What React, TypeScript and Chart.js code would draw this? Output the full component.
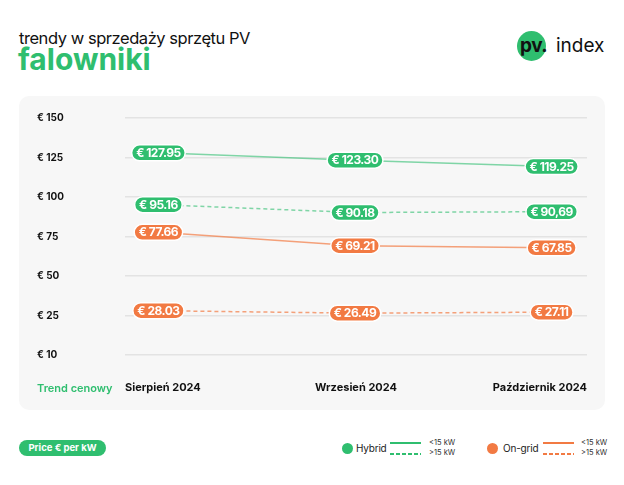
import React, { useEffect, useRef } from "react";
import { Chart, registerables } from "chart.js";

Chart.register(...registerables);

const months = ["Sierpień 2024", "Wrzesień 2024", "Październik 2024"];
const yTickLabels = ["€ 10", "€ 25", "€ 50", "€ 75", "€ 100", "€ 125", "€ 150"];

const hybridUnder15 = [127.95, 123.3, 119.25];
const hybridOver15 = [95.16, 90.18, 90.69];
const onGridUnder15 = [77.66, 69.21, 67.85];
const onGridOver15 = [28.03, 26.49, 27.11];

const hybridUnder15Labels = ["€ 127.95", "€ 123.30", "€ 119.25"];
const hybridOver15Labels = ["€ 95.16", "€ 90.18", "€ 90,69"];
const onGridUnder15Labels = ["€ 77.66", "€ 69.21", "€ 67.85"];
const onGridOver15Labels = ["€ 28.03", "€ 26.49", "€ 27.11"];

const GREEN = "#2fbe6f";
const ORANGE = "#f27a43";
const GREEN_LINE = "rgba(47,190,111,0.6)";
const ORANGE_LINE = "rgba(242,122,67,0.7)";
const FONT = "Inter, 'Noto Sans', sans-serif";

const pillPlugin = {
  id: "pills",
  afterDatasetsDraw(chart: any) {
    const ctx = chart.ctx;
    chart.data.datasets.forEach((ds: any, di: number) => {
      const meta = chart.getDatasetMeta(di);
      meta.data.forEach((pt: any, i: number) => {
        const text = ds.pillLabels[i];
        ctx.save();
        ctx.font = `bold 12px ${FONT}`;
        (ctx as any).letterSpacing = "-0.5px";
        const w = ctx.measureText(text).width + 9;
        const h = 16;
        ctx.beginPath();
        ctx.roundRect(pt.x - w / 2, pt.y - h / 2, w, h, h / 2);
        ctx.fillStyle = ds.pillColor;
        ctx.fill();
        ctx.lineWidth = 1.5;
        ctx.strokeStyle = "#ffffff";
        ctx.stroke();
        ctx.fillStyle = "#ffffff";
        ctx.textAlign = "center";
        ctx.textBaseline = "middle";
        ctx.fillText(text, pt.x, pt.y + 0.5);
        ctx.restore();
      });
    });
  },
};

function toPoints(values: number[]) {
  return values.map((v, i) => ({ x: i, y: v }));
}

export default function App() {
  const canvasRef = useRef<HTMLCanvasElement | null>(null);

  useEffect(() => {
    if (!canvasRef.current) return;
    const mk = (values: number[], labels: string[], line: string, pill: string, dashed: boolean) => ({
      data: toPoints(values),
      xAxisID: "x",
      yAxisID: "y",
      borderColor: line,
      borderWidth: 1.5,
      borderDash: dashed ? [4, 3] : [],
      pointRadius: 0,
      tension: 0,
      fill: false,
      pillLabels: labels,
      pillColor: pill,
    });
    const chart = new Chart(canvasRef.current, {
      type: "line",
      data: {
        labels: months,
        datasets: [
          mk(hybridUnder15, hybridUnder15Labels, GREEN_LINE, GREEN, false),
          mk(hybridOver15, hybridOver15Labels, GREEN_LINE, GREEN, true),
          mk(onGridUnder15, onGridUnder15Labels, ORANGE_LINE, ORANGE, false),
          mk(onGridOver15, onGridOver15Labels, ORANGE_LINE, ORANGE, true),
        ] as any,
      },
      options: {
        animation: false,
        responsive: false,
        devicePixelRatio: 1,
        layout: { padding: { left: 18, right: 18, top: 22, bottom: 0 } },
        plugins: { legend: { display: false }, tooltip: { enabled: false } },
        scales: {
          x: {
            type: "linear",
            display: false,
            min: -0.17,
            max: 2.18,
          },
          xCat: {
            type: "category",
            axis: "x",
            position: "bottom",
            offset: false,
            grid: { display: false, drawTicks: false },
            border: { display: false },
            ticks: {
              align: "inner",
              autoSkip: false,
              maxRotation: 0,
              padding: 26,
              color: "#111111",
              font: { family: FONT, size: 11, weight: "bold" },
            },
            afterFit: (s: any) => {
              s.height = 55;
              s.paddingLeft = 0;
              s.paddingRight = 0;
            },
          },
          y: {
            type: "linear",
            position: "left",
            min: 0,
            max: 150,
            ticks: {
              stepSize: 25,
              crossAlign: "far",
              color: "#111111",
              font: { family: FONT, size: 10, weight: "bold" },
              callback: (_v: any, i: number) => yTickLabels[i],
            },
            grid: { color: "#e3e3e3", lineWidth: 1.5, drawTicks: false },
            border: { display: false },
            afterFit: (s: any) => {
              s.width = 88;
              s.paddingTop = 0;
              s.paddingBottom = 0;
            },
          },
        } as any,
      },
      plugins: [pillPlugin],
    });
    return () => chart.destroy();
  }, []);

  const abs = (o: any) => ({ position: "absolute", ...o } as React.CSSProperties);
  const dashBg = (c: string) => `repeating-linear-gradient(to right, ${c} 0px, ${c} 4px, transparent 4px, transparent 6px)`;

  return (
    <div
      style={{
        position: "fixed",
        left: 0,
        top: 0,
        width: 624,
        height: 485,
        background: "#ffffff",
        fontFamily: FONT,
        overflow: "hidden",
      }}
    >
      <div style={abs({ left: 19, top: 30, fontSize: 16.5, lineHeight: "17px", letterSpacing: "-0.45px", color: "#111", whiteSpace: "nowrap" })}>
        trendy w sprzedaży sprzętu PV
      </div>
      <div style={abs({ left: 18, top: 44, fontSize: 30, lineHeight: "30px", fontWeight: 700, color: GREEN, whiteSpace: "nowrap" })}>
        falowniki
      </div>

      <div style={abs({ left: 517, top: 31, width: 29, height: 30, borderRadius: "50%", background: GREEN })} />
      <div style={abs({ left: 520, top: 36, fontSize: 19, lineHeight: "19px", fontWeight: 700, letterSpacing: "-0.5px", color: "#111", whiteSpace: "nowrap" })}>
        pv.
      </div>
      <div style={abs({ left: 556, top: 36, fontSize: 19, lineHeight: "19px", color: "#111", whiteSpace: "nowrap" })}>
        index
      </div>

      <div style={abs({ left: 19, top: 96, width: 586, height: 314, background: "#f7f7f7", borderRadius: 10 })} />
      <canvas ref={canvasRef} width={586} height={314} style={abs({ left: 19, top: 96, width: 586, height: 314 })} />
      <div style={abs({ left: 37, top: 382, fontSize: 11, lineHeight: "13px", fontWeight: 600, color: GREEN, whiteSpace: "nowrap" })}>
        Trend cenowy
      </div>

      <div
        style={abs({
          left: 19,
          top: 440,
          width: 87,
          height: 16,
          borderRadius: 8,
          background: GREEN,
          color: "#fff",
          fontSize: 9.5,
          fontWeight: 700,
          lineHeight: "16px",
          textAlign: "center",
          whiteSpace: "nowrap",
        })}
      >
        Price € per kW
      </div>

      <div style={abs({ left: 342, top: 443, width: 11, height: 11, borderRadius: "50%", background: GREEN })} />
      <div style={abs({ left: 356, top: 442, fontSize: 10, lineHeight: "13px", letterSpacing: "-0.2px", color: "#222" })}>Hybrid</div>
      <div style={abs({ left: 390, top: 442, width: 31, height: 2, background: GREEN })} />
      <div style={abs({ left: 390, top: 453, width: 31, height: 2, background: dashBg(GREEN) })} />
      <div style={abs({ left: 429, top: 438, fontSize: 7.5, lineHeight: "9px", color: "#333" })}>&lt;15 kW</div>
      <div style={abs({ left: 429, top: 448, fontSize: 7.5, lineHeight: "9px", color: "#333" })}>&gt;15 kW</div>

      <div style={abs({ left: 487, top: 443, width: 11, height: 11, borderRadius: "50%", background: ORANGE })} />
      <div style={abs({ left: 503, top: 442, fontSize: 10, lineHeight: "13px", letterSpacing: "-0.2px", color: "#222" })}>On-grid</div>
      <div style={abs({ left: 543, top: 442, width: 31, height: 2, background: ORANGE })} />
      <div style={abs({ left: 543, top: 453, width: 31, height: 2, background: dashBg(ORANGE) })} />
      <div style={abs({ left: 581, top: 438, fontSize: 7.5, lineHeight: "9px", color: "#333" })}>&lt;15 kW</div>
      <div style={abs({ left: 581, top: 448, fontSize: 7.5, lineHeight: "9px", color: "#333" })}>&gt;15 kW</div>
    </div>
  );
}
